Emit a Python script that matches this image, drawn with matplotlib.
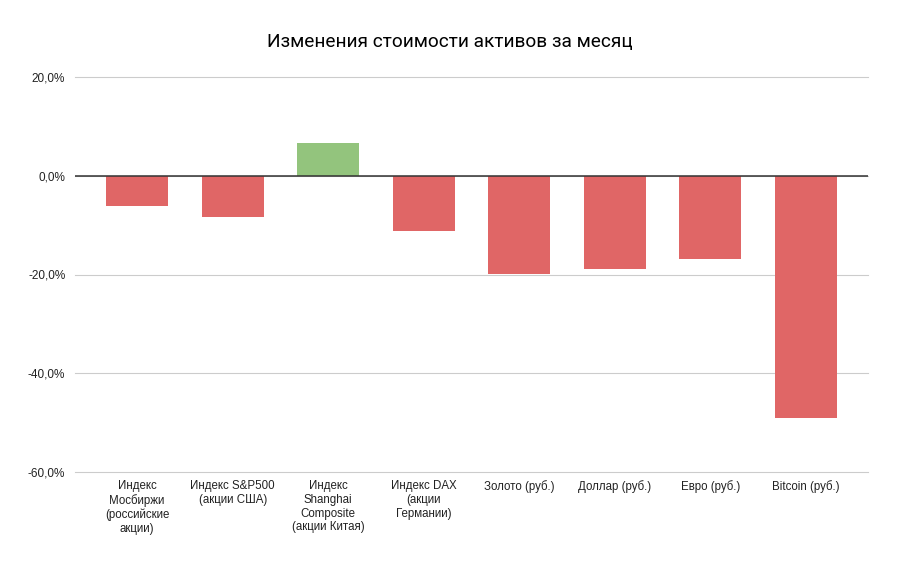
import matplotlib
matplotlib.use("Agg")
import matplotlib.pyplot as plt
from matplotlib.ticker import FuncFormatter

categories = [
    "Индекс\nМосбиржи\n(российские\nакции)",
    "Индекс S&P500\n(акции США)",
    "Индекс\nShanghai\nComposite\n(акции Китая)",
    "Индекс DAX\n(акции\nГермании)",
    "Золото (руб.)",
    "Доллар (руб.)",
    "Евро (руб.)",
    "Bitcoin (руб.)",
]
values = [-6.2, -8.3, 6.6, -11.1, -19.9, -18.8, -16.8, -49.0]
title = "Изменения стоимости активов за месяц"

RED = "#e06666"
GREEN = "#93c47d"

W, H = 897, 563
fig = plt.figure(figsize=(W / 100, H / 100), dpi=100)
ax = fig.add_axes([75 / W, 1 - 472 / H, (868 - 75) / W, (472 - 77) / H])

x = list(range(len(categories)))
colors = [GREEN if v >= 0 else RED for v in values]
ax.bar(x, values, width=0.65, color=colors, zorder=3)

ax.set_xlim(-0.65, len(categories) - 1 + 0.65)
ax.set_ylim(-60, 20)
ax.set_yticks([-60, -40, -20, 0, 20])
ax.yaxis.set_major_formatter(FuncFormatter(lambda v, p: f"{v:.1f}%".replace(".", ",")))
ax.grid(axis="y", color="#cccccc", linewidth=0.8, zorder=0)
for gl in ax.get_ygridlines():
    gl.set_clip_on(False)
ax.axhline(0, color="#333333", linewidth=1.1, zorder=4)
for s in ax.spines.values():
    s.set_visible(False)
ax.tick_params(axis="both", length=0)
ax.tick_params(axis="y", pad=7)
ax.tick_params(axis="x", pad=6)
ax.set_xticks(x)
ax.set_xticklabels(categories, fontsize=8.3, family="Liberation Sans", color="#222222",
                   linespacing=1.18, va="top")
for lbl in ax.get_yticklabels():
    lbl.set_fontsize(8.5)
    lbl.set_family("Liberation Sans")
    lbl.set_color("#222222")

fig.text(450 / W, 1 - 42 / H, title, ha="center", va="center", fontsize=13.7,
         family="Roboto", color="#000000")

fig.savefig("out.png", dpi=100, facecolor="white")
